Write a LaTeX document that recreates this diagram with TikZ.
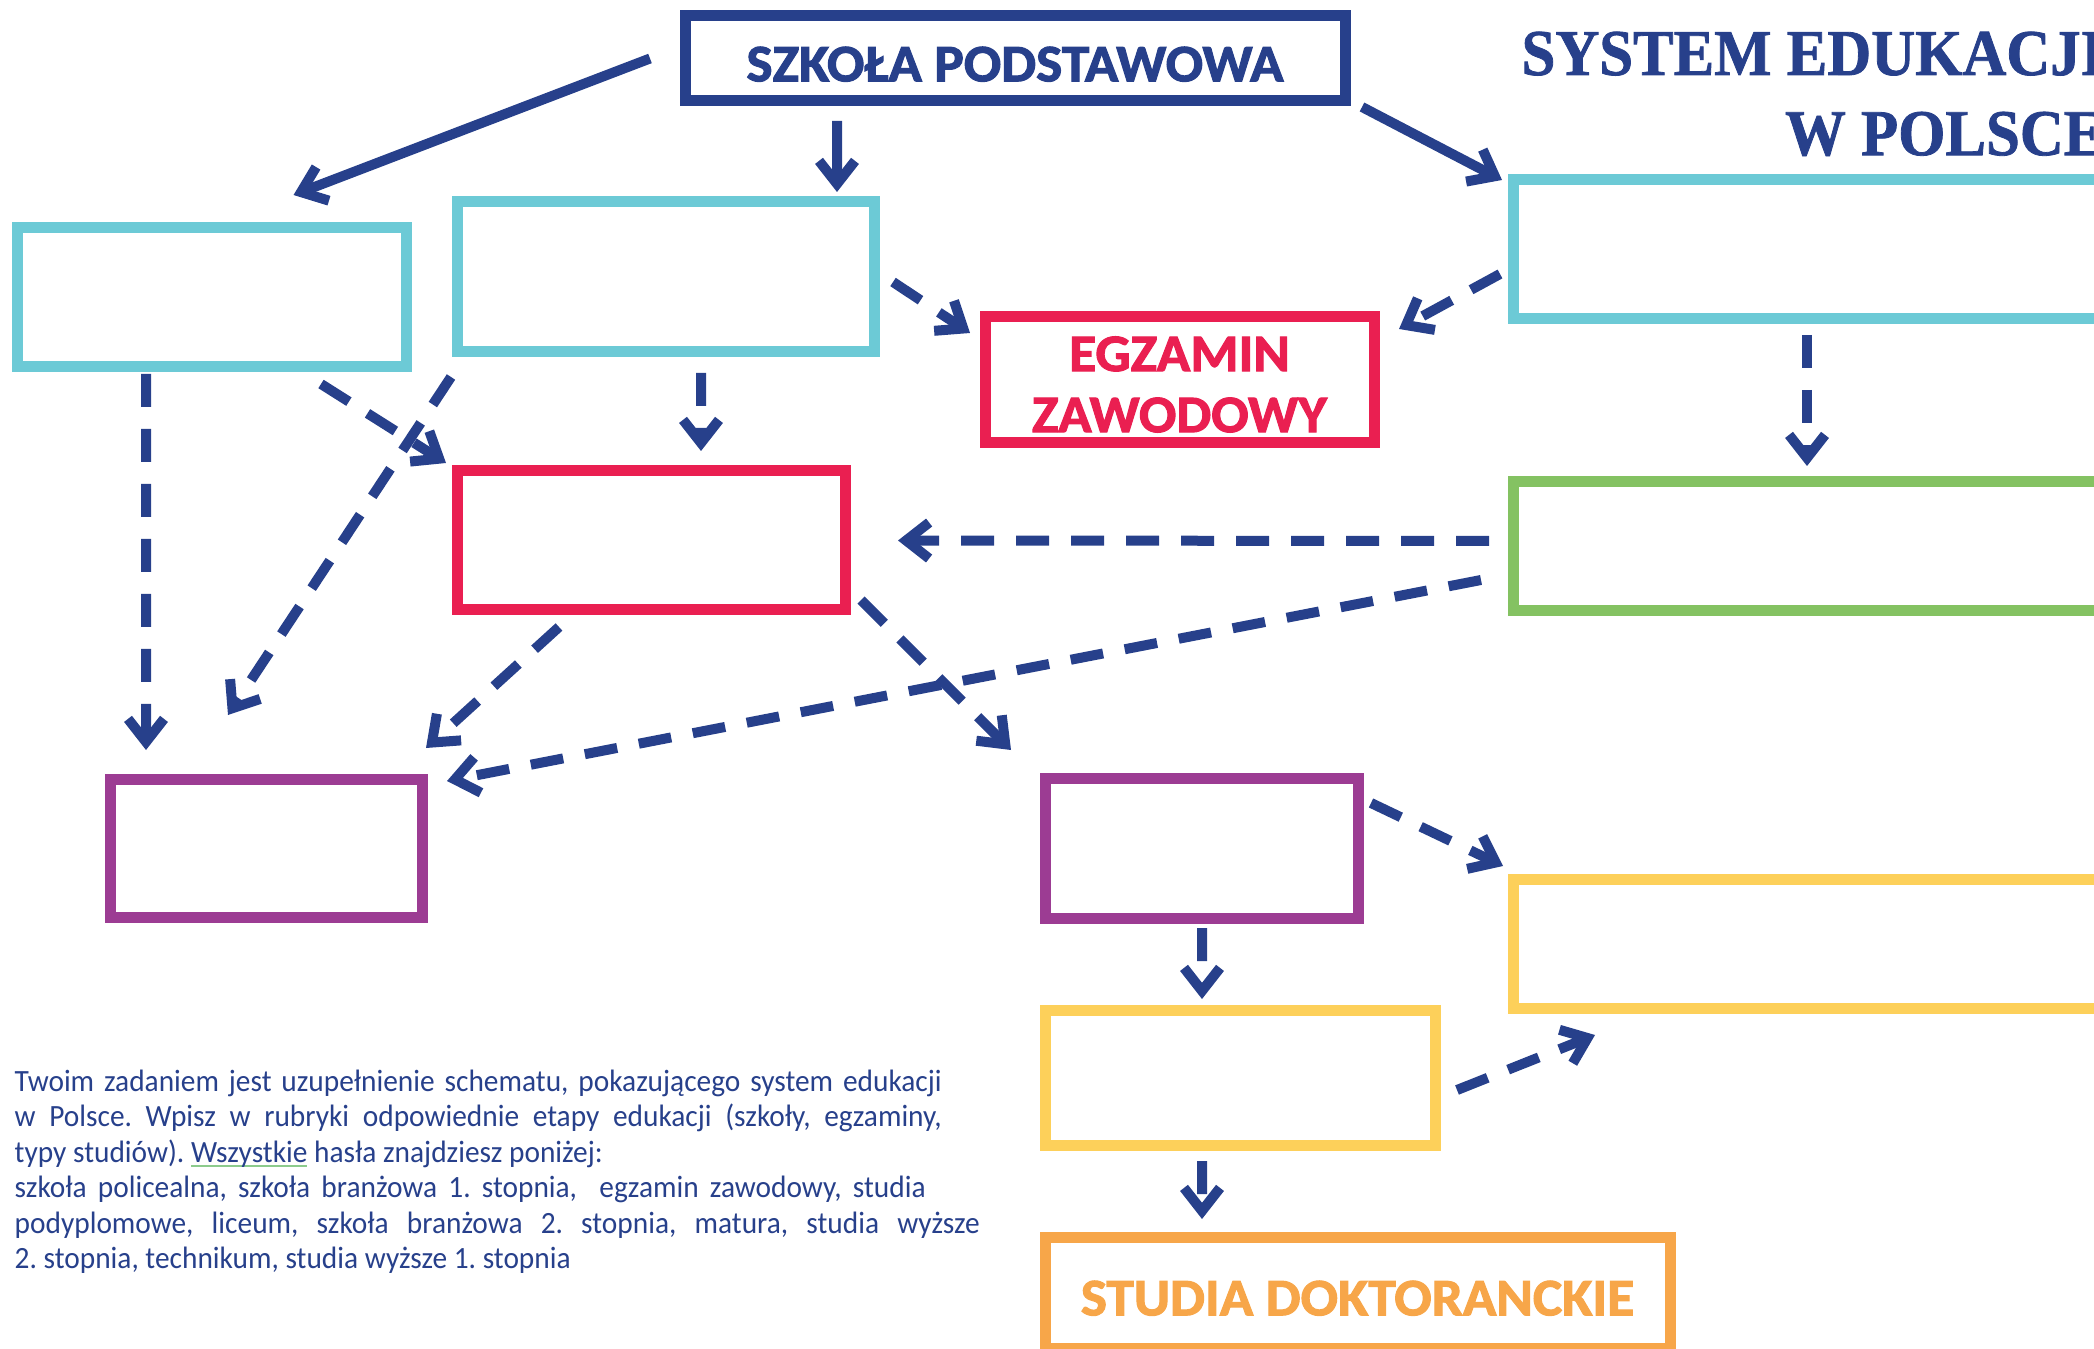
\documentclass[tikz,border=0pt]{standalone}
\usepackage{fontspec}
\setmainfont{Carlito}
\newfontfamily\tytulfont[FakeStretch=0.93, BoldFeatures={FakeBold=1.2}]{Liberation Serif}
\newfontfamily\naglowek[FakeStretch=1.05, BoldFeatures={FakeBold=2}]{Carlito}
\newfontfamily\opisfont[FakeStretch=0.95]{Carlito}
\usetikzlibrary{arrows.meta}

\definecolor{granat}{HTML}{27408B}
\definecolor{turkus}{HTML}{6CCAD6}
\definecolor{malina}{HTML}{EA1F51}
\definecolor{trawa}{HTML}{84C262}
\definecolor{sliwka}{HTML}{9C3C93}
\definecolor{slonce}{HTML}{FDD05A}
\definecolor{pomarancz}{HTML}{F7A649}
\definecolor{zielonka}{HTML}{8CCB8C}

% podkreślenie jak w edytorze
\newcommand{\podkresl}[1]{\setbox0\hbox{#1}\rlap{\textcolor{zielonka}{\rule[-1.4pt]{\wd0}{0.6pt}}}\box0\relax}
% wiersz obniżony bez zmiany wymiarów
\newcommand{\nizej}[2]{\raisebox{-#1}[\height][\depth]{#2}}

\begin{document}
\begin{tikzpicture}[ramka/.style={draw, line width=1.1mm, inner sep=0pt, outer sep=0pt, align=center, font=\naglowek\bfseries\fontsize{15}{18.8}\selectfont, execute at begin node={\rule{0pt}{4.6mm}}},
	strzalka/.style={draw=granat, line width=1mm, -{Straight Barb[length=2.3mm, width=3.6mm, sharp]}},
	kreski/.style={strzalka, dash pattern=on 3.3mm off 2.2mm}]
	
	\useasboundingbox (0, 0) rectangle (20.94, -13.49);
	\clip (0, 0) rectangle (20.94, -13.49);
	
	% Tytuł
	\node[font=\tytulfont\bfseries\fontsize{18.6}{22.8}\selectfont, text=granat, align=right, anchor=north east, inner sep=0pt] (tytul) at (21.05, -0.31) {SYSTEM EDUKACJI\\W POLSCE};
	
	% Szkoła podstawowa
	\node[ramka, draw=granat, text=granat, minimum width=6.6cm, minimum height=0.85cm] (podstawowa) at (10.15, -0.585) {SZKOŁA PODSTAWOWA};
	
	% Szkoły średnie
	\node[ramka, draw=turkus, minimum width=3.89cm, minimum height=1.39cm] (liceum) at (2.115, -2.975) {};
	\node[ramka, draw=turkus, minimum width=4.17cm, minimum height=1.5cm] (technikum) at (6.655, -2.77) {};
	\node[ramka, draw=turkus, minimum width=6.82cm, minimum height=1.39cm] (branzowa1) at (18.54, -2.495) {};
	
	% Egzaminy
	\node[ramka, draw=malina, text=malina, minimum width=3.89cm, minimum height=1.26cm] (egzamin) at (11.795, -3.8) {\nizej{0.7mm}{EGZAMIN}\\\nizej{0.2mm}{ZAWODOWY}};
	\node[ramka, draw=malina, minimum width=3.88cm, minimum height=1.39cm] (matura) at (6.51, -5.405) {};
	\node[ramka, draw=trawa, minimum width=6.82cm, minimum height=1.29cm] (branzowa2) at (18.54, -5.465) {};
	
	% Dalsza nauka
	\node[ramka, draw=sliwka, minimum width=3.12cm, minimum height=1.38cm] (policealna) at (2.66, -8.48) {};
	\node[ramka, draw=sliwka, minimum width=3.13cm, minimum height=1.4cm] (studia1) at (12.015, -8.48) {};
	\node[ramka, draw=slonce, minimum width=6.82cm, minimum height=1.29cm] (podyplomowe) at (18.54, -9.435) {};
	\node[ramka, draw=slonce, minimum width=3.9cm, minimum height=1.35cm] (studia2) at (12.4, -10.775) {};
	\node[ramka, draw=pomarancz, text=pomarancz, minimum width=6.25cm, minimum height=1.11cm] (doktorat) at (13.575, -12.925) {STUDIA DOKTORANCKIE};
	
	% Polecenie
	\node[font=\opisfont\frenchspacing\fontsize{8.8}{10.1}\selectfont, text=granat, align=left, anchor=north west, inner sep=0pt] (opis) at (0.14, -10.69) {%
		\makebox[9.27cm][s]{Twoim zadaniem jest uzupełnienie schematu, pokazującego system edukacji}\\
		\makebox[9.27cm][s]{w Polsce. Wpisz w rubryki odpowiednie etapy edukacji (szkoły, egzaminy,}\\
		typy studiów). \podkresl{Wszystkie} hasła znajdziesz poniżej:\\
		\makebox[9.11cm][s]{szkoła policealna, szkoła branżowa 1. stopnia, \ egzamin zawodowy, studia}\\
		\makebox[9.65cm][s]{podyplomowe, liceum, szkoła branżowa 2. stopnia, matura, studia wyższe}\\
		2. stopnia, technikum, studia wyższe 1. stopnia};
	
	% Strzałki ciągłe
	\draw[strzalka] ([xshift=-3.5mm]podstawowa.west) -- ([xshift=8.2mm, yshift=3.3mm]liceum.north);
	\draw[strzalka] ([xshift=-17.8mm, yshift=-2mm]podstawowa.south) -- ([xshift=17.15mm, yshift=1mm]technikum.north);
	\draw[strzalka] ([xshift=1.7mm, yshift=-0.6mm]podstawowa.south east) -- ([xshift=-1.1mm]branzowa1.north west);
	
	% Strzałki przerywane
	\draw[kreski] ([xshift=1.9mm, yshift=-0.5mm]technikum.east) -- ([xshift=-1.5mm, yshift=-1.6mm]egzamin.north west);
	\draw[kreski] ([xshift=-1.3mm, yshift=-2.45mm]branzowa1.west) -- ([xshift=2.5mm, yshift=-1.2mm]egzamin.north east);
	\draw[kreski] ([xshift=-4.7mm, yshift=-1.6mm]branzowa1.south) -- ([xshift=-4.7mm, yshift=1.6mm]branzowa2.north);
	\draw[kreski] ([xshift=-2.4mm, yshift=0.55mm]branzowa2.west) -- ([xshift=5.3mm]matura.east);
	\draw[kreski] ([xshift=-3.2mm, yshift=-3.35mm]branzowa2.west) -- ([xshift=2.5mm, yshift=-0.2mm]policealna.north east);
	\draw[kreski] ([xshift=-6.55mm, yshift=-0.7mm]liceum.south) -- ([xshift=-12mm, yshift=2.9mm]policealna.north);
	\draw[kreski] ([xshift=-8.5mm, yshift=-1.7mm]liceum.south east) -- ([xshift=-1.1mm, yshift=0.8mm]matura.north west);
	\draw[kreski] ([xshift=-0.6mm, yshift=-2.5mm]technikum.south west) -- ([xshift=-3.8mm, yshift=6.4mm]policealna.north);
	\draw[kreski] ([xshift=3.55mm, yshift=-2.1mm]technikum.south) -- ([xshift=5mm, yshift=2mm]matura.north);
	\draw[kreski] ([xshift=-9.2mm, yshift=-1.7mm]matura.south) -- ([xshift=0.4mm, yshift=3.1mm]policealna.north east);
	\draw[kreski] ([xshift=1.6mm, yshift=1mm]matura.south east) -- ([xshift=-3.4mm, yshift=2.8mm]studia1.north west);
	\draw[kreski] ([xshift=1.3mm, yshift=-2.5mm]studia1.north east) -- ([xshift=-1mm, yshift=1.3mm]podyplomowe.north west);
	\draw[kreski] ([xshift=0.05mm, yshift=-1mm]studia1.south) -- ([xshift=-3.8mm, yshift=1.1mm]studia2.north);
	\draw[kreski] ([xshift=2.2mm, yshift=-1.25mm]studia2.east) -- ([xshift=8.2mm, yshift=-2.7mm]podyplomowe.south west);
	\draw[kreski] ([xshift=-3.8mm, yshift=-1.6mm]studia2.south) -- ([xshift=-15.55mm, yshift=1.8mm]doktorat.north);
\end{tikzpicture}
\end{document}
